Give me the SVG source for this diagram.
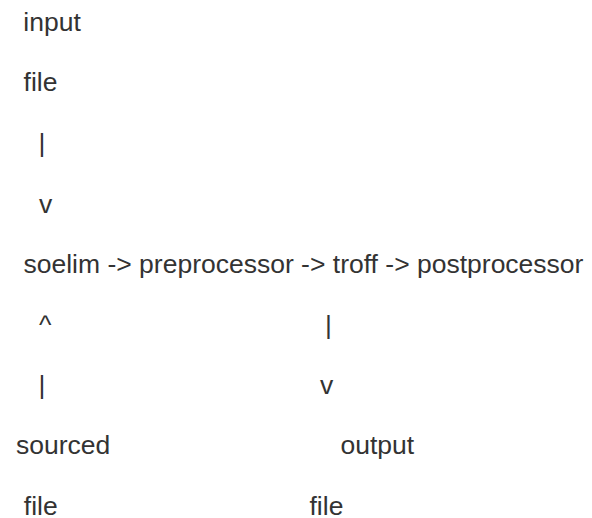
<svg xmlns="http://www.w3.org/2000/svg" width="592" height="518" viewBox="0 0 592 518">
<style>
text { font-family: "Liberation Sans", Arial, sans-serif; font-size: 26.5px; fill: #333333; }
</style>
<rect width="592" height="518" fill="#ffffff"/>
<g id="input-file">
<text x="23.3" y="30.7">input</text>
<text x="23.6" y="91.3">file</text>
</g>
<g id="pipeline">
<text x="23.5" y="273.1">soelim -&gt; preprocessor -&gt; troff -&gt; postprocessor</text>
</g>
<g id="sourced-file">
<text x="16" y="454.3">sourced</text>
<text x="23.8" y="514.9">file</text>
</g>
<g id="output-file">
<text x="340.5" y="454.3">output</text>
<text x="309.5" y="514.9">file</text>
</g>
<g id="connectors">
<text x="38.5" y="151.9">|</text>
<text x="39" y="212.5">v</text>
<text x="39" y="333.7">^</text>
<text x="38.5" y="394.3">|</text>
<text x="325" y="333.7">|</text>
<text x="320" y="394.3">v</text>
</g>
</svg>
